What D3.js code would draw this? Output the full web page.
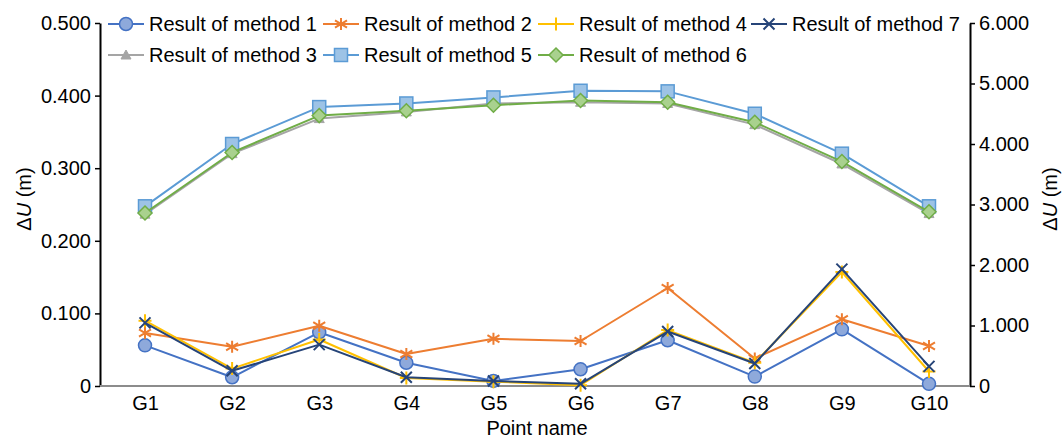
<!DOCTYPE html>
<html>
<head>
<meta charset="utf-8">
<script src="https://cdn.jsdelivr.net/npm/d3@7"></script>
<style>
  html, body { margin: 0; padding: 0; background: #fff; }
  svg text { font-family: "Liberation Sans", Arial, sans-serif; fill: #000; }
</style>
</head>
<body>
<svg id="chart" width="1064" height="440"></svg>
<script>
// Point names along the x axis
const categories = ["G1", "G2", "G3", "G4", "G5", "G6", "G7", "G8", "G9", "G10"];

// Left-axis series (ΔU in m, 0 – 0.5)
const method1 = [0.056, 0.012, 0.074, 0.032, 0.007, 0.023, 0.063, 0.013, 0.078, 0.003];
const method2 = [0.073, 0.054, 0.083, 0.044, 0.065, 0.062, 0.135, 0.038, 0.092, 0.055];
const method4 = [0.090, 0.024, 0.064, 0.011, 0.006, 0.001, 0.077, 0.032, 0.157, 0.020];
const method7 = [0.087, 0.021, 0.057, 0.012, 0.007, 0.003, 0.075, 0.031, 0.161, 0.027];

// Right-axis series (ΔU in m, 0 – 6)
const method3 = [2.84, 3.84, 4.42, 4.53, 4.67, 4.69, 4.67, 4.32, 3.67, 2.85];
const method5 = [2.97, 4.00, 4.61, 4.67, 4.77, 4.88, 4.87, 4.50, 3.84, 2.97];
const method6 = [2.86, 3.86, 4.47, 4.55, 4.64, 4.72, 4.69, 4.36, 3.71, 2.88];

// Tick values for both y axes
const leftTicks = [0, 0.1, 0.2, 0.3, 0.4, 0.5];
const rightTicks = [0, 1, 2, 3, 4, 5, 6];

const series = [
  { name: "Result of method 1", values: method1, axis: "left",  stroke: "#4472C4", fill: "#8EA9DB", marker: "circle" },
  { name: "Result of method 2", values: method2, axis: "left",  stroke: "#ED7D31", fill: "none",    marker: "star" },
  { name: "Result of method 4", values: method4, axis: "left",  stroke: "#FFC000", fill: "none",    marker: "plus" },
  { name: "Result of method 7", values: method7, axis: "left",  stroke: "#264478", fill: "none",    marker: "cross" },
  { name: "Result of method 3", values: method3, axis: "right", stroke: "#A5A5A5", fill: "#A5A5A5", marker: "triangle" },
  { name: "Result of method 5", values: method5, axis: "right", stroke: "#5B9BD5", fill: "#9DC3E6", marker: "square" },
  { name: "Result of method 6", values: method6, axis: "right", stroke: "#70AD47", fill: "#A9D18E", marker: "diamond" }
];

const svg = d3.select("#chart");
const plot = { left: 100, right: 970, top: 23, bottom: 386 };

// Category positions (first and last points sit half a step inside the frame)
const x = d3.scalePoint().domain(categories).range([145, 929]);
const yL = d3.scaleLinear().domain([0, 0.5]).range([plot.bottom, plot.top]);
const yR = d3.scaleLinear().domain([0, 6]).range([plot.bottom, plot.top]);

const fmt = v => v === 0 ? "0" : d3.format(".3f")(v);

// Left axis
const gL = svg.append("g").attr("transform", `translate(${plot.left},0)`)
  .call(d3.axisLeft(yL).tickValues(leftTicks).tickFormat(fmt).tickSize(5).tickSizeOuter(0).tickPadding(4));
// Right axis
const gR = svg.append("g").attr("transform", `translate(${plot.right},0)`)
  .call(d3.axisRight(yR).tickValues(rightTicks).tickFormat(fmt).tickSize(5).tickSizeOuter(0).tickPadding(4));
[gL, gR].forEach(g => {
  g.select(".domain").attr("stroke", "#000").attr("stroke-width", 2);
  g.selectAll(".tick line").attr("stroke", "#000").attr("stroke-width", 1.5);
  g.selectAll(".tick text").attr("font-size", 20).attr("font-family", "Liberation Sans, Arial, sans-serif").attr("fill", "#000");
});

// Category axis: baseline across the frame, labels under each point
svg.append("line").attr("x1", plot.left).attr("x2", plot.right)
  .attr("y1", plot.bottom).attr("y2", plot.bottom)
  .attr("stroke", "#8c8c8c").attr("stroke-width", 2);
const gX = svg.append("g").attr("transform", `translate(0,${plot.bottom})`)
  .call(d3.axisBottom(x).tickSize(0).tickPadding(10));
gX.select(".domain").remove();
gX.selectAll(".tick text").attr("font-size", 20).attr("font-family", "Liberation Sans, Arial, sans-serif").attr("fill", "#000");

// Axis titles
function yTitle(tx, ty) {
  const t = svg.append("text")
    .attr("transform", `translate(${tx},${ty}) rotate(-90)`)
    .attr("text-anchor", "middle")
    .attr("font-size", 20);
  t.append("tspan").text("\u0394");
  t.append("tspan").attr("font-style", "italic").text("U");
  t.append("tspan").text(" (m)");
}
yTitle(31, 199);
yTitle(1057, 199);

svg.append("text").attr("x", 537).attr("y", 435).attr("text-anchor", "middle")
  .attr("font-size", 20).text("Point name");

// Marker drawing
function drawMarker(g, s, cx, cy) {
  const sw = 2;
  switch (s.marker) {
    case "circle":
      g.append("circle").attr("cx", cx).attr("cy", cy).attr("r", 6.5)
        .attr("fill", s.fill).attr("stroke", s.stroke).attr("stroke-width", 1.5);
      break;
    case "square": {
      const h = 6.5;
      g.append("rect").attr("x", cx - h).attr("y", cy - h).attr("width", 2 * h).attr("height", 2 * h)
        .attr("fill", s.fill).attr("stroke", s.stroke).attr("stroke-width", 1.5);
      break;
    }
    case "diamond": {
      const h = 7;
      g.append("path").attr("d", `M${cx},${cy - h}L${cx + h},${cy}L${cx},${cy + h}L${cx - h},${cy}Z`)
        .attr("fill", s.fill).attr("stroke", s.stroke).attr("stroke-width", 1.5);
      break;
    }
    case "triangle": {
      const h = 5;
      g.append("path").attr("d", `M${cx},${cy - h}L${cx + h},${cy + h * 0.8}L${cx - h},${cy + h * 0.8}Z`)
        .attr("fill", s.fill).attr("stroke", s.stroke).attr("stroke-width", 1);
      break;
    }
    case "star": {
      const h = 6;
      g.append("path").attr("d",
        `M${cx},${cy - h}L${cx},${cy + h}M${cx - h},${cy - h * 0.6}L${cx + h},${cy + h * 0.6}M${cx - h},${cy + h * 0.6}L${cx + h},${cy - h * 0.6}`)
        .attr("fill", "none").attr("stroke", s.stroke).attr("stroke-width", sw);
      break;
    }
    case "plus": {
      const h = 6.5;
      g.append("path").attr("d", `M${cx},${cy - h}L${cx},${cy + h}M${cx - h},${cy}L${cx + h},${cy}`)
        .attr("fill", "none").attr("stroke", s.stroke).attr("stroke-width", sw);
      break;
    }
    case "cross": {
      const h = 5.5;
      g.append("path").attr("d", `M${cx - h},${cy - h}L${cx + h},${cy + h}M${cx - h},${cy + h}L${cx + h},${cy - h}`)
        .attr("fill", "none").attr("stroke", s.stroke).attr("stroke-width", sw);
      break;
    }
  }
}

// Series lines and markers
const plotG = svg.append("g");
series.forEach(s => {
  const y = s.axis === "left" ? yL : yR;
  const pts = s.values.map((v, i) => [x(categories[i]), y(v)]);
  const g = plotG.append("g");
  g.append("path").attr("d", d3.line()(pts))
    .attr("fill", "none").attr("stroke", s.stroke).attr("stroke-width", 2).attr("stroke-linejoin", "round");
  pts.forEach(p => drawMarker(g, s, p[0], p[1]));
});

// Legend: two rows
const legendRows = [
  [{ s: 0, x: 108 }, { s: 1, x: 323 }, { s: 2, x: 538 }, { s: 3, x: 751 }],
  [{ s: 4, x: 108 }, { s: 5, x: 323 }, { s: 6, x: 538 }]
];
const rowY = [24, 55];
const legend = svg.append("g");
legendRows.forEach((row, r) => {
  row.forEach(item => {
    const s = series[item.s];
    const cy = rowY[r];
    legend.append("line").attr("x1", item.x).attr("x2", item.x + 36).attr("y1", cy).attr("y2", cy)
      .attr("stroke", s.stroke).attr("stroke-width", 2);
    drawMarker(legend, s, item.x + 18, cy);
    legend.append("text").attr("x", item.x + 41).attr("y", cy + 7)
      .attr("font-size", 20).text(s.name);
  });
});
</script>
</body>
</html>
